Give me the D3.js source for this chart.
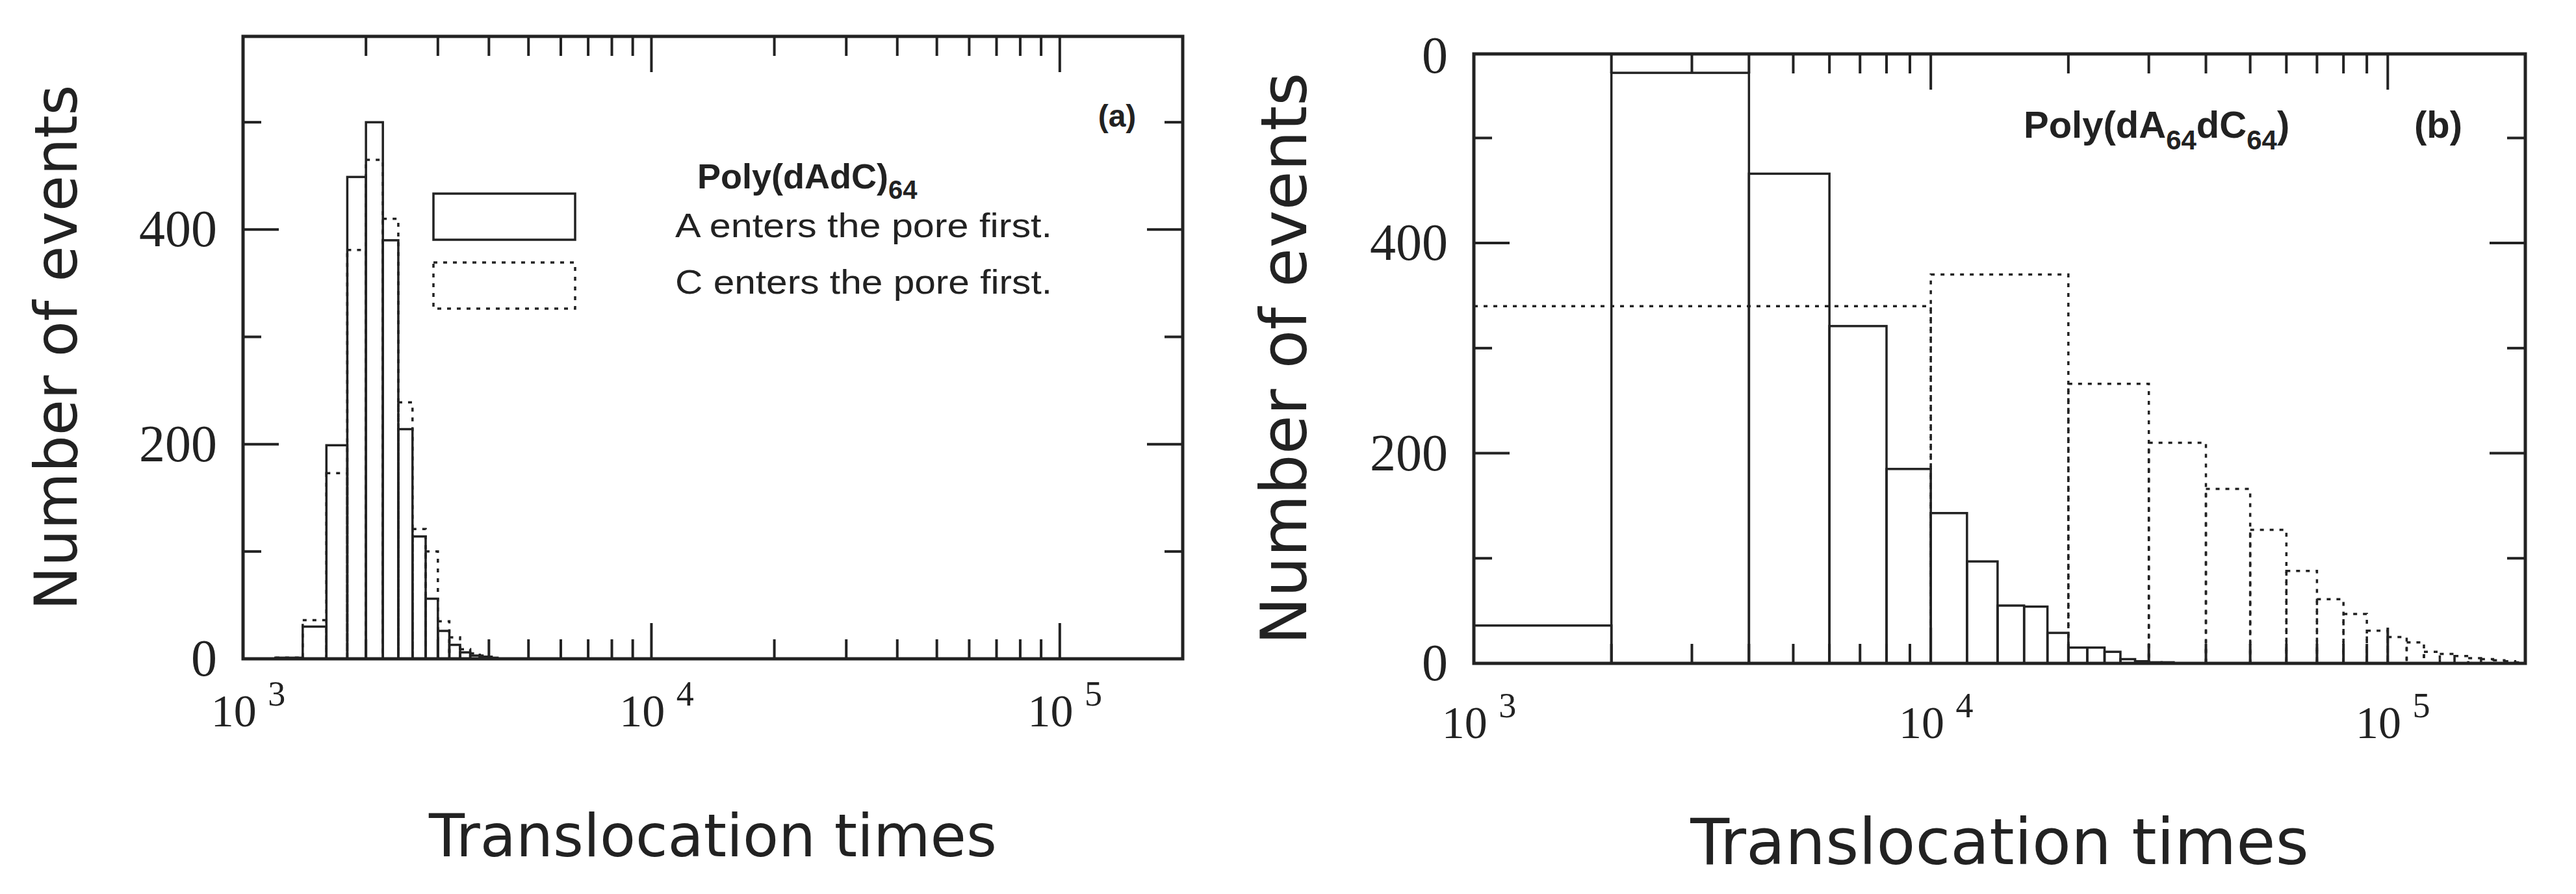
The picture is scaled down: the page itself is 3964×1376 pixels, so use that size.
<!DOCTYPE html>
<html><head><meta charset="utf-8">
<script src="https://cdn.jsdelivr.net/npm/d3@7"></script>
<style>body{margin:0;background:#fff}</style>
</head><body>
<svg id="c" width="3964" height="1376"></svg>
<script>
// panel (a): bins of 200 starting at 1200
var aEdges = [1200,1400,1600,1800,2000,2200,2400,2600,2800,3000,3200,3400,3600,3800,4000,4200];
var aFirst = [1,30,199,449,500,390,214,114,56,26,13,6,3,2,1];
var aSecond = [1,36,173,381,465,410,239,121,100,35,20,9,5,3,2];
// panel (b)
var bEdgesA = [1000,2000,4000,6000,8000,10000,12000,14000,16000,18000,20000,22000,24000,26000,28000,30000,32000,34000];
var bFirst = [36,562,466,321,185,143,97,55,54,29,15,15,11,4,2,1,1];
var bEdgesC = [1000,10000,20000,30000,40000,50000,60000,70000,80000,90000,100000,110000,120000,130000,140000,150000,160000,170000,180000,190000,200000];
var bSecond = [340,370,266,210,166,127,88,61,47,31,25,20,11,9,7,5,4,3,2,1];
var yTicks = [0,200,400];
var xDecades = [3,4,5];

var svg = d3.select('#c');

function panel(o) {
    var x = d3.scaleLog().domain([1e3,2e5]).range([o.l,o.r]);
    var y = d3.scaleLinear().domain([0,580]).range([o.b,o.t]);
    var g = svg.append('g');
    var bars = function (edges, vals, dash) {
        g.selectAll(null).data(vals).enter().append('rect')
            .attr('x', function (d,i) { return x(edges[i]); })
            .attr('width', function (d,i) { return x(edges[i+1]) - x(edges[i]); })
            .attr('y', function (d) { return y(d); })
            .attr('height', function (d) { return o.b - y(d); })
            .attr('fill', 'none').attr('stroke', '#222').attr('stroke-width', 3.5)
            .attr('stroke-dasharray', dash);
    };
    bars(o.e2, o.v2, '6,9');
    bars(o.e1, o.v1, null);
    // frame
    g.append('rect').attr('x', o.l).attr('y', o.t).attr('width', o.r-o.l).attr('height', o.b-o.t)
        .attr('fill','none').attr('stroke','#222').attr('stroke-width',5);
    // x ticks
    var xt = [];
    [1e3,1e4,1e5].forEach(function (d) { for (var k=1;k<10;k++) if (d*k<=2e5) xt.push([d*k, k==1]); });
    xt.push([2e5,false]);
    xt.forEach(function (t) {
        var len = t[1] ? 55 : 30, px = x(t[0]);
        g.append('line').attr('x1',px).attr('x2',px).attr('y1',o.b).attr('y2',o.b-len).attr('stroke','#222').attr('stroke-width',4);
        g.append('line').attr('x1',px).attr('x2',px).attr('y1',o.t).attr('y2',o.t+len).attr('stroke','#222').attr('stroke-width',4);
    });
    [0,100,200,300,400,500].forEach(function (v) {
        var len = v % 200 == 0 ? 55 : 28, py = y(v);
        g.append('line').attr('x1',o.l).attr('x2',o.l+len).attr('y1',py).attr('y2',py).attr('stroke','#222').attr('stroke-width',4);
        g.append('line').attr('x1',o.r).attr('x2',o.r-len).attr('y1',py).attr('y2',py).attr('stroke','#222').attr('stroke-width',4);
    });
    yTicks.forEach(function (v) {
        g.append('text').attr('x', o.l-40).attr('y', y(v)+26).attr('text-anchor','end')
            .attr('font-family','Liberation Serif').attr('font-size',80).attr('fill','#222').text(v);
    });
    xDecades.forEach(function (p) {
        var t = g.append('text').attr('x', x(Math.pow(10,p))+8).attr('y', o.xl).attr('text-anchor','middle')
            .attr('font-family','Liberation Serif').attr('font-size',70).attr('fill','#222');
        t.append('tspan').text('10 ');
        t.append('tspan').attr('dy',-32).attr('font-size',54).text(p);
    });
    g.append('text').attr('transform','translate('+o.yt+','+((o.t+o.b)/2)+') rotate(-90)')
        .attr('text-anchor','middle').attr('font-family','DejaVu Sans').attr('font-size',o.ts).attr('fill','#222')
        .text('Number of events');
    g.append('text').attr('x',(o.l+o.r)/2).attr('y',o.xt).attr('text-anchor','middle')
        .attr('font-family','DejaVu Sans').attr('font-size',o.ts).attr('fill','#222').text('Translocation times');
    return g;
}

var ga = panel({l:374,r:1820,t:56,b:1014,e1:aEdges,v1:aFirst,e2:aEdges,v2:aSecond,xl:1118,xt:1318,yt:118,ts:90});
var gb = panel({l:2268,r:3886,t:83,b:1021,e1:bEdgesA,v1:bFirst,e2:bEdgesC,v2:bSecond,xl:1136,xt:1330,yt:2010,ts:98});

var lab = {'font-family':'Liberation Sans','font-weight':'bold','fill':'#222'};
function txt(g, x, y, size, anchor) {
    var t = g.append('text').attr('x',x).attr('y',y).attr('font-size',size).attr('text-anchor',anchor||'start');
    for (var k in lab) t.attr(k, lab[k]);
    return t;
}
// legend (a)
ga.append('rect').attr('x',667).attr('y',298).attr('width',218).attr('height',71).attr('fill','none').attr('stroke','#222').attr('stroke-width',3.5);
ga.append('rect').attr('x',667).attr('y',404).attr('width',218).attr('height',71).attr('fill','none').attr('stroke','#222').attr('stroke-width',3.5).attr('stroke-dasharray','6,9');
var t1 = txt(ga, 1073, 290, 54);
t1.append('tspan').text('Poly(dAdC)');
t1.append('tspan').attr('dy',16).attr('font-size',40).text('64');
txt(ga, 1039, 365, 52).attr('font-weight','normal').attr('textLength',580).attr('lengthAdjust','spacingAndGlyphs').text('A enters the pore first.');
txt(ga, 1039, 452, 52).attr('font-weight','normal').attr('textLength',580).attr('lengthAdjust','spacingAndGlyphs').text('C enters the pore first.');
txt(ga, 1719, 195, 48, 'middle').text('(a)');
// labels (b)
var t2 = txt(gb, 3114, 212, 58);
t2.append('tspan').text('Poly(dA');
t2.append('tspan').attr('dy',18).attr('font-size',42).text('64');
t2.append('tspan').attr('dy',-18).text('dC');
t2.append('tspan').attr('dy',18).attr('font-size',42).text('64');
t2.append('tspan').attr('dy',-18).text(')');
txt(gb, 3752, 212, 58, 'middle').text('(b)');
gb.append('text').attr('x',2228).attr('y',112).attr('text-anchor','end').attr('font-family','Liberation Serif')
    .attr('font-size',80).attr('fill','#222').text('0');
</script>
</body></html>
